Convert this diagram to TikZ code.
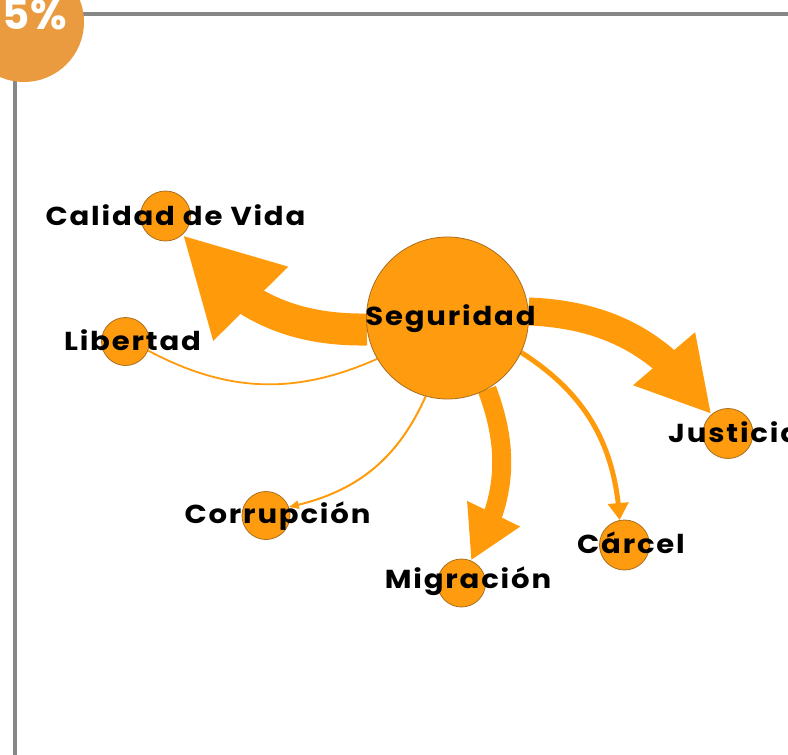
\documentclass[tikz,border=0pt]{standalone}
\usepackage{fontspec}
\setmainfont{Poppins}
\newfontfamily\lblfont[FakeStretch=1.12,LetterSpace=7]{Poppins}
\usetikzlibrary{arrows.meta,bending,backgrounds}
\definecolor{edgeor}{RGB}{255,154,10}
\definecolor{nodeor}{RGB}{255,155,15}
\definecolor{nodeborder}{RGB}{170,110,30}
\definecolor{framegray}{RGB}{135,135,135}
\definecolor{badgeor}{RGB}{234,155,64}
\begin{document}
\begin{tikzpicture}[x=1pt,y=-1pt,
  gnode/.style={circle,draw=nodeborder,line width=0.8pt,fill=nodeor,inner sep=0pt},
  lbl/.style={font=\lblfont\bfseries\fontsize{26}{26}\selectfont,text=black,inner sep=0pt,anchor=base},
  edgeline/.style={draw=edgeor},
]
\useasboundingbox (0,0) rectangle (788,755);
\node[gnode,minimum size=162pt] (S) at (447.5,318) {};
\node[gnode,minimum size=50pt] (C) at (165.5,216) {};
\node[gnode,minimum size=48pt] (L) at (125.5,341.5) {};
\node[gnode,minimum size=50pt] (J) at (728,433.5) {};
\node[gnode,minimum size=48pt] (R) at (266,515.5) {};
\node[gnode,minimum size=48pt] (M) at (461.5,583) {};
\node[gnode,minimum size=50pt] (K) at (624.5,545) {};
\begin{pgfonlayer}{background}
  \coordinate (fc) at (15,14);
  \coordinate (fr) at (788,14);
  \coordinate (fb) at (15,755);
  \draw[framegray,line width=4pt] (fr) -- (fc) -- (fb);
  \fill[badgeor] (24,22) circle[radius=60pt];
  \draw[edgeline,line width=32pt,-{Triangle[length=97pt,width=98pt]}] (S) to[bend left=28] (C);
  \draw[edgeline,line width=28pt,-{Triangle[length=73pt,width=76pt]}] (S) to[bend left=27] (J);
  \draw[edgeline,line width=19pt,-{Triangle[length=52pt,width=55pt]}] (S) to[bend left=26] (M);
  \draw[edgeline,line width=5pt,-{Triangle[length=17pt,width=20pt]}] (S) to[bend left=27] (K);
  \draw[edgeline,line width=2pt,-{Triangle[length=10pt,width=8pt]}] (S) to[bend left=27] (R);
  \draw[edgeline,line width=1.8pt] (S) to[bend left=26] (L);
\end{pgfonlayer}
\node[font=\bfseries\fontsize{42}{42}\selectfont,text=white,inner sep=0pt,anchor=base east] (badge) at (67,29) {5\%};
\node[lbl] (tC) at (175.5,225) {Calidad de Vida};
\node[lbl] (tL) at (132.5,350) {Libertad};
\node[lbl] (tS) at (450.5,325) {Seguridad};
\node[lbl,anchor=base west] (tJ) at (668,442) {Justicia};
\node[lbl] (tR) at (277.5,523) {Corrupción};
\node[lbl] (tM) at (468,588) {Migración};
\node[lbl] (tK) at (631,553) {Cárcel};
\end{tikzpicture}
\end{document}
